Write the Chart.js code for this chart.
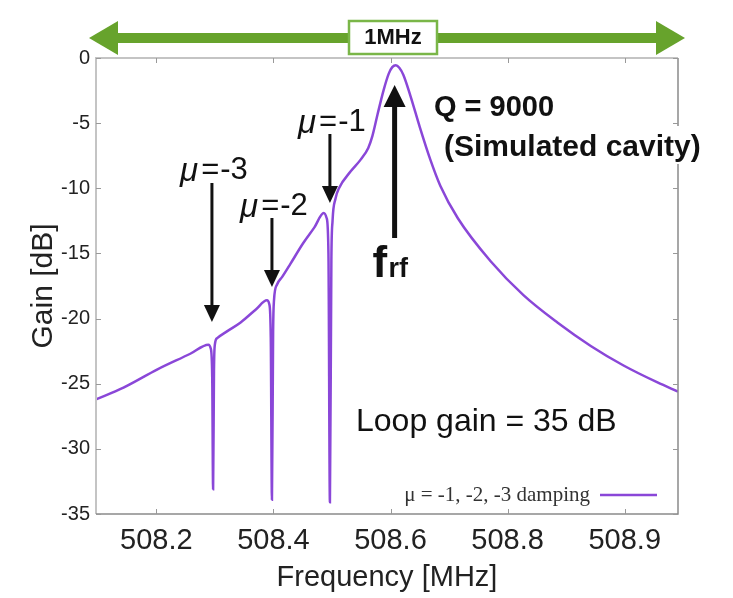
<!DOCTYPE html>
<html>
<head>
<meta charset="utf-8">
<script src="https://cdn.jsdelivr.net/npm/chart.js@4.4.1/dist/chart.umd.min.js"></script>
<style>
  html, body { margin: 0; padding: 0; background: #fff; }
</style>
</head>
<body>
<canvas id="gainChart" width="733" height="598"></canvas>
<script>
const freqMHz = [
  508.097, 508.144, 508.202, 508.258, 508.289, 508.293, 508.2955, 508.297, 508.2985, 508.300, 508.304,
  508.320, 508.344, 508.370, 508.389, 508.393, 508.3955, 508.3975, 508.3995, 508.401, 508.406,
  508.415, 508.429, 508.451, 508.470, 508.486, 508.491, 508.494, 508.4965, 508.499, 508.501, 508.506,
  508.512, 508.532, 508.549, 508.562, 508.569, 508.578, 508.588, 508.597, 508.603, 508.609, 508.615,
  508.622, 508.634, 508.650, 508.668, 508.685, 508.715, 508.771, 508.827, 508.885, 508.942, 508.998,
  509.056, 509.091
];
const gainDb = [
  -26.2, -25.3, -23.9, -22.7, -22.0, -22.3, -24.5, -33.1, -24.0, -22.0, -21.5,
  -21.0, -20.3, -19.3, -18.6, -18.9, -21.5, -33.9, -21.0, -18.6, -17.4,
  -16.8, -15.8, -14.2, -13.0, -11.9, -12.3, -15.0, -34.1, -15.5, -12.5, -10.8,
  -10.0, -8.7, -7.8, -6.9, -6.0, -4.3, -2.5, -1.2, -0.7, -0.55, -0.75,
  -1.3, -2.9, -5.3, -7.8, -9.8, -12.3, -15.6, -18.2, -20.3, -22.1, -23.6,
  -24.9, -25.6
];

const xTickValues = [508.2, 508.4, 508.6, 508.8, 509.0];
const xTickLabels = ['508.2', '508.4', '508.6', '508.8', '508.9'];
const yTickValues = [0, -5, -10, -15, -20, -25, -30, -35];

const muOrders = ['-3', '-2', '-1'];
const muFreqs = [508.295, 508.3975, 508.4965];
const rfFreq = 508.607;

const FONT = 'Liberation Sans, Arial, Helvetica, sans-serif';
const PURPLE = '#8a47d8';
const GREEN = '#67a32c';

function vArrow(ctx, x, yFrom, yTo, shaft, headW, headL) {
  const dir = yTo > yFrom ? 1 : -1;
  const yBase = yTo - dir * headL;
  ctx.beginPath();
  ctx.lineWidth = shaft;
  ctx.moveTo(x, yFrom);
  ctx.lineTo(x, yBase);
  ctx.stroke();
  ctx.beginPath();
  ctx.moveTo(x, yTo);
  ctx.lineTo(x - headW / 2, yBase);
  ctx.lineTo(x + headW / 2, yBase);
  ctx.closePath();
  ctx.fill();
}

const decorations = {
  id: 'decorations',
  beforeDraw(chart) {
    const ctx = chart.ctx;
    ctx.save();
    ctx.fillStyle = '#fff';
    ctx.fillRect(0, 0, chart.width, chart.height);
    ctx.restore();
  },
  afterDraw(chart) {
    const ctx = chart.ctx;
    const { left, right, top, bottom } = chart.chartArea;
    const xs = chart.scales.x, ys = chart.scales.y;
    ctx.save();

    // frame
    ctx.lineWidth = 2;
    ctx.strokeStyle = '#c4c4c4';
    ctx.beginPath();
    ctx.moveTo(left, bottom); ctx.lineTo(left, top); ctx.lineTo(right, top);
    ctx.stroke();
    ctx.lineWidth = 1.5;
    ctx.strokeStyle = '#8a8a8a';
    ctx.beginPath();
    ctx.moveTo(left, bottom); ctx.lineTo(right, bottom); ctx.lineTo(right, top);
    ctx.stroke();

    // inward tick marks
    ctx.lineWidth = 1;
    ctx.strokeStyle = '#999';
    ctx.beginPath();
    xTickValues.forEach(v => {
      const px = Math.round(xs.getPixelForValue(v)) + 0.5;
      ctx.moveTo(px, bottom); ctx.lineTo(px, bottom - 5);
      ctx.moveTo(px, top); ctx.lineTo(px, top + 5);
    });
    yTickValues.forEach(v => {
      const py = Math.round(ys.getPixelForValue(v)) + 0.5;
      ctx.moveTo(left, py); ctx.lineTo(left + 5, py);
      ctx.moveTo(right, py); ctx.lineTo(right - 5, py);
    });
    ctx.stroke();

    // 1 MHz span arrow
    const ay = 38;
    ctx.fillStyle = GREEN;
    ctx.fillRect(115, ay - 5, 684 - 115 - 28, 10);
    ctx.beginPath();
    ctx.moveTo(89, ay); ctx.lineTo(118, ay - 17); ctx.lineTo(118, ay + 17); ctx.closePath();
    ctx.fill();
    ctx.beginPath();
    ctx.moveTo(685, ay); ctx.lineTo(656, ay - 17); ctx.lineTo(656, ay + 17); ctx.closePath();
    ctx.fill();
    ctx.fillStyle = '#fff';
    ctx.fillRect(349, 21, 88, 33);
    ctx.strokeStyle = '#7ab648';
    ctx.lineWidth = 2.5;
    ctx.strokeRect(349, 21, 88, 33);
    ctx.fillStyle = '#111';
    ctx.font = 'bold 22px ' + FONT;
    ctx.textAlign = 'center';
    ctx.textBaseline = 'middle';
    ctx.fillText('1MHz', 393, 38);

    // mu labels and arrows
    const muLayout = [
      { label: 170, from: 183, to: 322 },
      { label: 206, from: 218, to: 287 },
      { label: 122, from: 134, to: 203 }
    ];
    ctx.fillStyle = '#111';
    ctx.strokeStyle = '#111';
    muFreqs.forEach((f, i) => {
      const px = xs.getPixelForValue(f);
      const L = muLayout[i];
      vArrow(ctx, px, L.from, L.to, 3, 16, 17);
      ctx.textBaseline = 'middle';
      ctx.textAlign = 'left';
      ctx.font = 'italic 33px ' + FONT;
      const muW = ctx.measureText('\u03bc').width;
      ctx.font = '31px ' + FONT;
      const eqW = ctx.measureText('=').width;
      const numW = ctx.measureText(muOrders[i]).width;
      const total = muW + 3 + eqW + 1 + numW;
      const x0 = px - total / 2 + 2;
      ctx.font = 'italic 33px ' + FONT;
      ctx.fillText('\u03bc', x0, L.label + 2);
      ctx.font = '31px ' + FONT;
      ctx.fillText('=', x0 + muW + 3, L.label);
      ctx.fillText(muOrders[i], x0 + muW + 3 + eqW + 1, L.label);
    });

    // f_rf arrow
    const rx = xs.getPixelForValue(rfFreq);
    vArrow(ctx, rx, 238, 85, 5, 22, 22);
    ctx.textBaseline = 'alphabetic';
    ctx.textAlign = 'left';
    ctx.font = 'bold 44px ' + FONT;
    ctx.fillText('f', rx - 22, 277);
    ctx.font = 'bold 27px ' + FONT;
    ctx.fillText('rf', rx - 6, 277);

    // Q text
    ctx.font = 'bold 29px ' + FONT;
    ctx.fillText('Q = 9000', 434, 116);
    ctx.font = 'bold 30px ' + FONT;
    const simText = '(Simulated cavity)';
    const simW = ctx.measureText(simText).width;
    ctx.fillStyle = '#fff';
    ctx.fillRect(441, 126, simW + 6, 38);
    ctx.fillStyle = '#111';
    ctx.fillText(simText, 444, 156);

    // loop gain
    ctx.font = '32px ' + FONT;
    ctx.textBaseline = 'middle';
    ctx.fillText('Loop gain = 35 dB', 356, 422);

    // legend
    ctx.font = '21px Liberation Serif, Times New Roman, serif';
    ctx.fillStyle = '#333';
    ctx.textAlign = 'right';
    ctx.fillText('\u03bc = -1, -2, -3 damping', 590, 495);
    ctx.strokeStyle = PURPLE;
    ctx.lineWidth = 2.5;
    ctx.beginPath();
    ctx.moveTo(600, 495); ctx.lineTo(657, 495);
    ctx.stroke();

    ctx.restore();
  }
};

new Chart(document.getElementById('gainChart').getContext('2d'), {
  type: 'line',
  data: {
    datasets: [{
      label: '\u03bc = -1, -2, -3 damping',
      data: freqMHz.map((f, i) => ({ x: f, y: gainDb[i] })),
      borderColor: PURPLE,
      borderWidth: 2.5,
      pointRadius: 0,
      cubicInterpolationMode: 'monotone',
      fill: false
    }]
  },
  options: {
    responsive: false,
    animation: false,
    devicePixelRatio: 1,
    layout: { padding: { top: 58, right: 55, left: 0, bottom: 0 } },
    plugins: { legend: { display: false }, tooltip: { enabled: false } },
    scales: {
      x: {
        type: 'linear',
        min: 508.097,
        max: 509.091,
        afterBuildTicks: s => { s.ticks = xTickValues.map(v => ({ value: v })); },
        afterFit: s => { s.height = 84; },
        grid: { display: false, drawTicks: false },
        border: { display: false },
        ticks: {
          autoSkip: false, maxRotation: 0, padding: 10, color: '#222',
          font: { family: FONT, size: 29 },
          callback: (v, i) => xTickLabels[i]
        },
        title: {
          display: true, text: 'Frequency [MHz]', color: '#222',
          font: { family: FONT, size: 29 }, padding: { top: 0, bottom: 3 }
        }
      },
      y: {
        min: -35,
        max: 0,
        afterBuildTicks: s => { s.ticks = yTickValues.map(v => ({ value: v })); },
        afterFit: s => { s.width = 96; },
        grid: { display: false, drawTicks: false },
        border: { display: false },
        ticks: {
          padding: 6, color: '#222',
          font: { family: FONT, size: 20 },
          callback: v => String(v)
        },
        title: {
          display: true, text: 'Gain [dB]', color: '#222',
          font: { family: FONT, size: 30 }, padding: { top: 26, bottom: 0 }
        }
      }
    }
  },
  plugins: [decorations]
});
</script>
</body>
</html>
